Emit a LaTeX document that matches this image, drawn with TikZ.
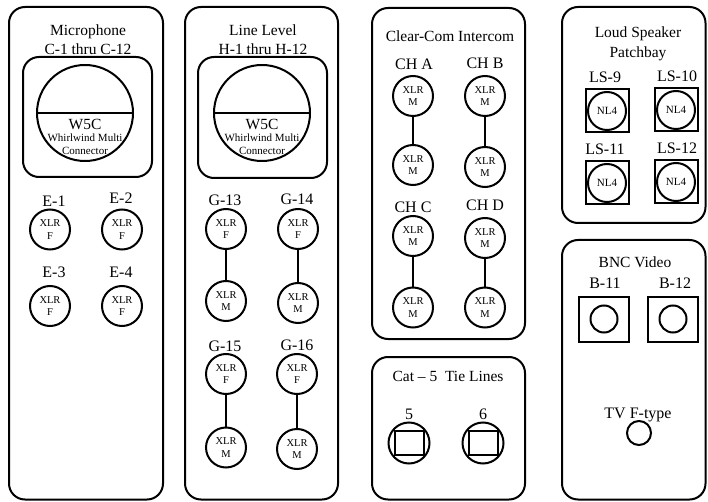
\documentclass[tikz,border=0pt]{standalone}
\usepackage{fontspec}
\setmainfont{Liberation Serif}
\usetikzlibrary{positioning}
\tikzset{
  panel/.style={rounded corners=16pt},
  title/.style={anchor=base, font=\fontsize{15.5}{19.5}\selectfont},
  lbl/.style={anchor=base, font=\fontsize{16}{19}\selectfont},
  small/.style={anchor=base, font=\fontsize{11}{13.5}\selectfont},
  xlr/.style={draw, circle, minimum size=40pt, inner sep=0pt, align=center,
    font=\fontsize{10.5}{12.5}\selectfont},
  multi/.style={draw, circle, minimum size=96pt, inner sep=0pt},
  nlbox/.style={draw, minimum size=43pt, inner sep=0pt},
  nlfour/.style={draw, circle, minimum size=38pt, inner sep=0pt,
    font=\fontsize{11}{13}\selectfont},
  rjring/.style={draw, circle, minimum size=41pt, inner sep=0pt},
  rjbox/.style={draw, minimum width=29pt, minimum height=24pt, inner sep=0pt},
  bncbox/.style={draw, minimum width=50pt, minimum height=45pt, inner sep=0pt},
  bnc/.style={draw, circle, minimum size=27pt, inner sep=0pt}
}
\begin{document}
\begin{tikzpicture}[x=1pt, y=-1pt, line width=2pt]
		\useasboundingbox (0,0) rectangle (708,502);
		%%%%%%%%%%%%%
		\draw[panel] (9,7) rectangle (163,499.5);
		\draw[panel] (185,7) rectangle (338,499.5);
		\draw[panel] (372,8) rectangle (525,339);
		\draw[panel] (372,357) rectangle (525,499.5);
		\draw[panel] (562,7) rectangle (705.5,223);
		\draw[panel] (562,240) rectangle (705.5,499.5);
		\draw[panel] (23,57) rectangle (152,177);
		\draw[panel] (198,57) rectangle (327,178);
		%%%%%%%%%%%%%
		\node[title] (mic) at (88,36) {Microphone};
		\node[title] (micc) at (88,54.5) {C-1 thru C-12};
		\node[multi] (w5ca) at (85,113) {};
		\draw (w5ca.west) to (w5ca.east);
		\node[title] (w5cat) at (85,130) {W5C};
		\node[small] (w5cas) at (85,141.5) {Whirlwind Multi};
		\node[small] (w5cac) at (85,154.5) {Connector};
		%%%%%%%%%%%%%
		\node[lbl] (e1l) at (54,206.5) {E-1};
		\node[xlr] (e1) at (50,229.5) {XLR\\F};
		\node[lbl] (e2l) at (121,204) {E-2};
		\node[xlr] (e2) at (122,229.5) {XLR\\F};
		\node[lbl] (e3l) at (54,277.5) {E-3};
		\node[xlr] (e3) at (50,306) {XLR\\F};
		\node[lbl] (e4l) at (121,277) {E-4};
		\node[xlr] (e4) at (122,306) {XLR\\F};
		%%%%%%%%%%%%%
		\node[title] (line) at (263,36) {Line Level};
		\node[title] (linec) at (263,54.5) {H-1 thru H-12};
		\node[multi] (w5cb) at (262,113) {};
		\draw (w5cb.west) to (w5cb.east);
		\node[title] (w5cbt) at (262,130) {W5C};
		\node[small] (w5cbs) at (262,141.5) {Whirlwind Multi};
		\node[small] (w5cbc) at (262,154.5) {Connector};
		%%%%%%%%%%%%%
		\node[lbl] (g13l) at (225,205.5) {G-13};
		\node[xlr] (g13f) at (226,229) {XLR\\F};
		\node[xlr] (g13m) at (226,301) {XLR\\M};
		\node[lbl] (g14l) at (297,205) {G-14};
		\node[xlr] (g14f) at (298,229) {XLR\\F};
		\node[xlr] (g14m) at (298,303) {XLR\\M};
		\node[lbl] (g15l) at (225,351.5) {G-15};
		\node[xlr] (g15f) at (226,374) {XLR\\F};
		\node[xlr] (g15m) at (226,447.5) {XLR\\M};
		\node[lbl] (g16l) at (297,350.5) {G-16};
		\node[xlr] (g16f) at (297,374) {XLR\\F};
		\node[xlr] (g16m) at (297,449) {XLR\\M};
		\draw (g13f) to (g13m); \draw (g14f) to (g14m);
		\draw (g15f) to (g15m); \draw (g16f) to (g16m);
		%%%%%%%%%%%%%
		\node[title] (ccom) at (450,42) {Clear-Com Intercom};
		\node[lbl] (chal) at (414,70) {CH A};
		\node[xlr] (cha1) at (413,96) {XLR\\M};
		\node[xlr] (cha2) at (413,165) {XLR\\M};
		\node[lbl] (chbl) at (485,69) {CH B};
		\node[xlr] (chb1) at (485,96) {XLR\\M};
		\node[xlr] (chb2) at (485,167) {XLR\\M};
		\node[lbl] (chcl) at (413,213) {CH C};
		\node[xlr] (chc1) at (413,236) {XLR\\M};
		\node[xlr] (chc2) at (413,307.5) {XLR\\M};
		\node[lbl] (chdl) at (485,211) {CH D};
		\node[xlr] (chd1) at (485,238) {XLR\\M};
		\node[xlr] (chd2) at (485,307.5) {XLR\\M};
		\draw (cha1) to (cha2); \draw (chb1) to (chb2);
		\draw (chc1) to (chc2); \draw (chd1) to (chd2);
		%%%%%%%%%%%%%
		\node[title] (cat) at (448,381) {Cat -- 5\ \ Tie Lines};
		\node[lbl] (tl5l) at (409,419) {5};
		\node[rjring] (tl5) at (409,443) {};
		\node[rjbox] (tl5j) at (409,443) {};
		\node[lbl] (tl6l) at (483,419) {6};
		\node[rjring] (tl6) at (483,443) {};
		\node[rjbox] (tl6j) at (483,443) {};
		%%%%%%%%%%%%%
		\node[title] (spk) at (638,38) {Loud Speaker};
		\node[title] (spkp) at (638,58) {Patchbay};
		\node[lbl] (ls9l) at (605,83) {LS-9};
		\node[nlbox] (ls9b) at (607,111) {};
		\node[nlfour] (ls9) at (607,111) {NL4};
		\node[lbl] (ls10l) at (677,82) {LS-10};
		\node[nlbox] (ls10b) at (676,110) {};
		\node[nlfour] (ls10) at (676,110) {NL4};
		\node[lbl] (ls11l) at (605,155) {LS-11};
		\node[nlbox] (ls11b) at (607,183) {};
		\node[nlfour] (ls11) at (607,183) {NL4};
		\node[lbl] (ls12l) at (677,154) {LS-12};
		\node[nlbox] (ls12b) at (676,182) {};
		\node[nlfour] (ls12) at (676,182) {NL4};
		%%%%%%%%%%%%%
		\node[title] (vid) at (635,267) {BNC Video};
		\node[lbl] (b11l) at (605,288) {B-11};
		\node[bncbox] (b11b) at (604,319) {};
		\node[bnc] (b11) at (604,319) {};
		\node[lbl] (b12l) at (675,288) {B-12};
		\node[bncbox] (b12b) at (673,319) {};
		\node[bnc] (b12) at (673,319) {};
		\node[lbl] (tvl) at (638,418) {TV F-type};
		\node[draw, circle, minimum size=24pt, inner sep=0pt] (tv) at (639,433) {};
\end{tikzpicture}
\end{document}
